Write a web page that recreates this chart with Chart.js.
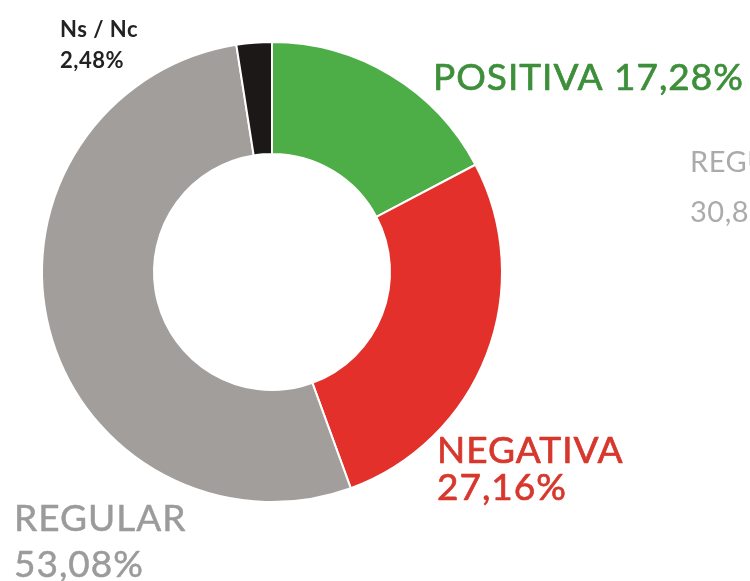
<!DOCTYPE html>
<html lang="es">
<head>
<meta charset="utf-8">
<title>Valoración</title>
<script src="https://cdn.jsdelivr.net/npm/chart.js@4.4.1/dist/chart.umd.min.js"></script>
<style>
  html, body { margin: 0; padding: 0; background: #fff; }
  #wrap { width: 750px; height: 581px; }
</style>
</head>
<body>
<div id="wrap"><canvas id="chart" width="750" height="581"></canvas></div>
<script>
// valoración: positiva, negativa, regular, ns/nc (en %)
const categories = ['POSITIVA', 'NEGATIVA', 'REGULAR', 'Ns / Nc'];
const values = [17.28, 27.16, 53.08, 2.48];
const sliceColors = ['#4dad47', '#e3302a', '#a29e9c', '#1c1817'];
const labelColors = ['#3d8f3a', '#d7372c', '#9b9b9b', '#222222'];

// etiqueta del otro gráfico que asoma por la derecha
const sideLabel = ['REGULAR', '30,8'];

function pct(v) {
  return v.toFixed(2).replace('.', ',') + '%';
}

// texto un poco mas grueso que Lato regular
function text(ctx, str, x, y, color, weight) {
  ctx.fillStyle = color;
  ctx.strokeStyle = color;
  ctx.lineWidth = weight;
  ctx.fillText(str, x, y);
  if (weight > 0) ctx.strokeText(str, x, y);
}

// rotulos junto a cada sector
const labelPlugin = {
  id: 'sliceLabels',
  afterDraw(chart) {
    const ctx = chart.ctx;
    ctx.save();
    ctx.textBaseline = 'alphabetic';
    ctx.textAlign = 'left';
    ctx.lineJoin = 'round';

    ctx.font = '37px Lato';
    ctx.letterSpacing = '1px';
    text(ctx, categories[0] + ' ' + pct(values[0]), 433, 90, labelColors[0], 0.7);
    text(ctx, categories[1], 437, 463, labelColors[1], 0.7);
    text(ctx, pct(values[1]), 437, 500, labelColors[1], 0.7);
    text(ctx, categories[2], 14, 531, labelColors[2], 0.5);
    text(ctx, pct(values[2]), 14, 577, labelColors[2], 0.5);

    ctx.font = 'bold 22px Lato';
    ctx.letterSpacing = '0.5px';
    text(ctx, categories[3], 60, 37, labelColors[3], 0);
    text(ctx, pct(values[3]), 60, 68, labelColors[3], 0);

    ctx.font = '29px Lato';
    ctx.letterSpacing = '0.5px';
    text(ctx, sideLabel[0], 690, 172, '#ababab', 0);
    text(ctx, sideLabel[1], 690, 222, '#ababab', 0);
    ctx.restore();
  }
};

new Chart(document.getElementById('chart'), {
  type: 'doughnut',
  data: {
    labels: categories,
    datasets: [{
      data: values,
      backgroundColor: sliceColors,
      borderColor: '#ffffff',
      borderWidth: 2
    }]
  },
  options: {
    responsive: false,
    animation: false,
    cutout: 118,
    rotation: 0,
    layout: { padding: { left: 41, top: 41, right: 247, bottom: 78 } },
    plugins: {
      legend: { display: false },
      tooltip: { enabled: false }
    }
  },
  plugins: [labelPlugin]
});
</script>
</body>
</html>
